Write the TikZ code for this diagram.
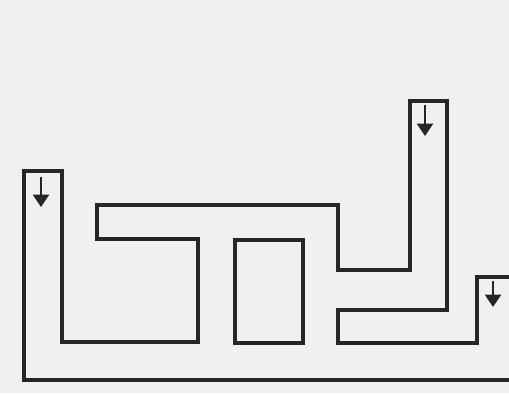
\documentclass[tikz,border=0pt]{standalone}
\usetikzlibrary{arrows.meta}
\tikzset{
  wall/.style={line width=2pt, black!85, line join=miter},
  flow/.style={line width=1.5pt, black!85, -{Triangle[width=9pt,length=7pt]}}
}
\begin{document}
\begin{tikzpicture}[x=0.02cm, y=-0.02cm]
    % 背景
    \fill[gray!12] (0,0) rectangle (509,393);
    \useasboundingbox (0,0) rectangle (509,393);

    % 通道外壁
    \draw[wall] (509,380) -- (24,380) -- (24,171) -- (62,171) -- (62,342)
        -- (198,342) -- (198,239) -- (97,239) -- (97,205) -- (338,205)
        -- (338,270) -- (410,270) -- (410,101) -- (447,101) -- (447,310)
        -- (338,310) -- (338,343) -- (477,343) -- (477,277) -- (509,277);

    % 中间隔块
    \draw[wall] (235,240) rectangle (303,343);

    % 流向
    \coordinate (inA) at (41,177);
    \coordinate (inB) at (425,105);
    \coordinate (outC) at (493,281);
    \draw[flow] (inA) -- ++(0,30);
    \draw[flow] (inB) -- ++(0,31);
    \draw[flow] (outC) -- ++(0,26);
\end{tikzpicture}
\end{document}
